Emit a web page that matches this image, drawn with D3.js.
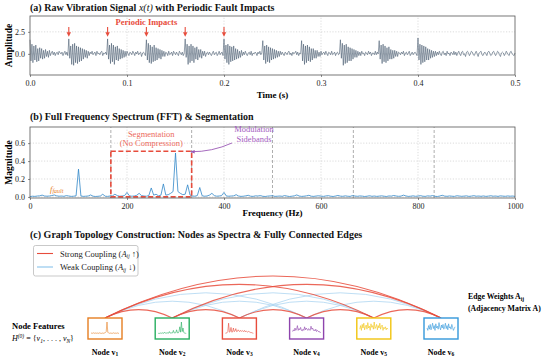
<!DOCTYPE html>
<html>
<head>
<meta charset="utf-8">
<script src="https://cdn.jsdelivr.net/npm/d3@7"></script>
<style>
body { margin: 0; background: #fff; }
svg { font-family: "Liberation Serif", "Times New Roman", serif; }
.tick text { fill: #1a1a1a; }
</style>
</head>
<body>
<div id="chart"></div>
<script>
// (a) raw vibration signal, one sample per ms, 0 .. 0.5 s
const signal = [
  1.6,-0.8,1.1,-1.0,0.9,-0.7,1.0,-0.9,0.6,-0.8,0.7,-0.5,0.6,-0.6,0.4,-0.5,0.5,-0.3,0.3,-0.4,0.4,-0.2,0.1,0.3,-0.1,0.2,-0.2,0.1,0.2,-0.1,0.3,0.1,0.0,0.2,-0.2,0.1,0.3,-0.1,0.2,-0.2,
  1.7,-0.5,0.9,-1.2,1.1,-1.3,1.2,-1.0,0.9,-1.1,0.8,-0.9,0.7,-0.8,0.6,-0.6,0.5,-0.4,0.4,-0.5,0.3,-0.2,0.2,0.0,0.3,-0.1,0.1,0.2,-0.2,0.3,0.0,0.1,-0.1,0.2,0.3,-0.2,0.1,0.0,0.2,-0.1,
  1.7,-0.6,1.0,-1.1,1.2,-0.9,1.0,-1.2,0.8,-0.7,0.9,-0.8,0.6,-0.6,0.5,-0.5,0.4,-0.4,0.3,-0.3,0.3,0.0,-0.2,0.2,0.1,-0.1,0.3,0.1,-0.2,0.2,0.0,0.3,-0.1,0.1,0.2,-0.3,0.1,0.2,0.0,-0.2,
  1.6,-0.7,1.2,-1.0,1.0,-1.1,0.8,-0.9,1.0,-0.8,0.7,-0.7,0.6,-0.5,0.5,-0.6,0.4,-0.3,0.3,-0.3,0.2,0.1,-0.2,0.3,-0.1,0.0,0.2,-0.2,0.3,0.1,-0.1,0.2,0.0,-0.2,0.3,0.1,-0.1,0.2,-0.2,0.1,
  1.7,-0.4,1.1,-1.2,0.9,-1.0,1.1,-0.8,0.9,-1.0,0.7,-0.6,0.8,-0.7,0.5,-0.4,0.5,-0.5,0.3,-0.2,0.3,-0.3,0.1,0.2,-0.1,0.2,0.0,-0.2,0.1,0.3,-0.1,0.1,0.2,-0.2,0.0,0.3,-0.1,0.1,0.2,-0.2,
  1.7,-0.6,1.0,-1.0,1.1,-1.2,0.9,-0.9,0.8,-0.8,0.9,-0.7,0.6,-0.6,0.5,-0.5,0.3,-0.4,0.4,-0.2,0.2,-0.1,0.3,0.0,-0.2,0.1,0.2,-0.1,0.3,-0.2,0.1,0.0,0.2,0.1,-0.2,0.2,0.0,0.3,-0.1,0.1,
  1.5,-0.7,0.9,-1.1,1.0,-0.9,0.8,-1.0,0.7,-0.7,0.6,-0.6,0.5,-0.5,0.4,-0.4,0.3,-0.3,0.3,-0.1,0.2,0.0,-0.2,0.2,0.1,-0.1,0.2,0.3,-0.1,0.1,-0.2,0.2,0.0,0.1,0.3,-0.1,0.2,-0.2,0.1,0.0,
  1.5,-0.8,1.1,-1.2,0.9,-1.0,1.0,-0.8,0.8,-0.9,0.6,-0.7,0.6,-0.5,0.4,-0.5,0.4,-0.3,0.2,-0.3,0.3,-0.1,0.1,0.2,-0.1,0.3,0.0,-0.2,0.2,0.1,-0.1,0.3,-0.1,0.0,0.2,-0.2,0.1,0.2,-0.1,0.0,
  1.6,-0.5,1.2,-1.3,1.0,-1.1,1.1,-1.0,0.8,-0.8,0.7,-0.8,0.6,-0.6,0.5,-0.4,0.4,-0.4,0.3,-0.2,0.2,-0.2,0.3,0.0,0.1,-0.2,0.2,0.1,-0.1,0.3,0.0,0.2,-0.2,0.1,0.1,-0.1,0.3,-0.1,0.2,0.0,
  1.5,-0.6,1.0,-1.1,1.1,-0.9,0.9,-1.0,0.7,-0.8,0.8,-0.6,0.5,-0.6,0.4,-0.5,0.4,-0.3,0.3,-0.3,0.2,0.1,-0.1,0.2,0.0,0.3,-0.2,0.1,0.2,-0.1,0.1,0.3,-0.2,0.0,0.2,-0.1,0.1,0.2,0.0,-0.2,
  1.8,-0.7,1.1,-1.2,1.0,-1.0,0.9,-0.9,0.8,-0.7,0.6,-0.7,0.5,-0.5,0.4,-0.4,0.3,-0.3,0.3,-0.2,0.2,-0.1,0.3,0.0,-0.2,0.2,0.3,-0.1,0.1,-0.2,0.3,0.0,0.1,-0.2,0.2,0.1,-0.1,0.3,-0.1,0.2,
  -0.2,0.1,0.3,0.0,-0.2,0.2,0.3,-0.1,0.0,-0.3,0.2,0.3,0.1,-0.2,0.0,0.3,0.2,-0.1,-0.2,0.1,
  0.3,0.0,-0.3,0.1,0.2,0.3,-0.1,-0.2,0.1,0.2,0.0,-0.2,0.2,0.3,0.1,-0.2,-0.1,0.2,0.3,0.0,
  -0.2,0.0,0.3,0.2,-0.1,-0.3,0.1,0.2,0.1,-0.2,0.0,0.3,0.1,-0.1,-0.2,0.2,0.3,0.0,-0.1,-0.2,0.1
];
const impactTimes = [0.04, 0.08, 0.12, 0.16, 0.2];
const timeTicks = [0, 0.1, 0.2, 0.3, 0.4, 0.5];
const ampTicks = [0, 2.5];

// (b) FFT magnitude, 5 Hz bins, 0 .. 1000 Hz
const freqStep = 5;
const spectrum = [
  0.004,0.008,0.006,0.010,0.012,0.020,0.010,0.008,0.010,0.015,
  0.022,0.012,0.008,0.010,0.007,0.015,0.010,0.006,0.008,0.012,
  0.310,0.010,0.006,0.008,0.010,0.022,0.008,0.005,0.007,0.010,
  0.030,0.008,0.006,0.010,0.012,0.030,0.015,0.008,0.010,0.015,
  0.050,0.012,0.008,0.010,0.018,0.040,0.015,0.010,0.008,0.015,
  0.100,0.020,0.030,0.012,0.020,0.145,0.020,0.025,0.040,0.060,
  0.490,0.060,0.040,0.025,0.030,0.135,0.020,0.010,0.008,0.015,
  0.105,0.012,0.008,0.010,0.020,0.040,0.015,0.008,0.010,0.015,
  0.050,0.010,0.008,0.010,0.012,0.025,0.010,0.006,0.008,0.012,
  0.018,0.008,0.006,0.012,0.010,0.015,0.007,0.005,0.009,0.011,
  0.014,0.006,0.008,0.010,0.007,0.015,0.009,0.005,0.008,0.012,
  0.022,0.010,0.006,0.008,0.012,0.018,0.008,0.006,0.010,0.013,
  0.009,0.006,0.011,0.014,0.008,0.005,0.010,0.016,0.009,0.007,
  0.012,0.008,0.006,0.015,0.010,0.007,0.011,0.009,0.005,0.008,
  0.013,0.007,0.010,0.006,0.009,0.012,0.008,0.005,0.011,0.009,
  0.016,0.010,0.007,0.009,0.020,0.011,0.006,0.008,0.012,0.007,
  0.010,0.014,0.008,0.006,0.012,0.009,0.015,0.007,0.005,0.010,
  0.018,0.009,0.007,0.011,0.008,0.006,0.013,0.010,0.007,0.009,
  0.012,0.006,0.009,0.014,0.008,0.010,0.007,0.011,0.006,0.009,
  0.013,0.008,0.010,0.006,0.012,0.009,0.007,0.011,0.008,0.010,
  0.006
];
const segmentBounds = [166.7, 333.3, 500, 666.7, 833.3];
const segWindow = [166.7, 333.3];
const segTop = 0.51;
const freqTicks = [0, 200, 400, 600, 800, 1000];
const magTicks = [0, 0.2, 0.4, 0.6];

// (c) graph nodes, their mini spectra and the edges
const nodeIds = ["1", "2", "3", "4", "5", "6"];
const nodeColors = ["#e67e22", "#27ae60", "#e74c3c", "#8e44ad", "#f1c40f", "#3498db"];
const nodeSpectra = [
  [0.05,0.08,0.06,0.1,0.07,0.05,0.09,0.06,0.08,0.05,0.07,0.1,0.06,0.05,0.08,0.07,0.06,0.09,0.12,0.2,1.0,0.15,0.08,0.06,0.07,0.09,0.05,0.06,0.1,0.07,0.05,0.08,0.06,0.09,0.05,0.07],
  [0.05,0.06,0.05,0.08,0.06,0.1,0.07,0.06,0.15,0.07,0.06,0.12,0.08,0.07,0.2,0.08,0.07,0.1,0.09,0.3,0.1,0.08,0.12,0.35,0.1,0.09,0.2,0.6,0.15,1.0,0.2,0.5,0.12,0.08,0.06,0.05],
  [0.06,0.08,0.1,0.2,0.9,0.15,0.2,0.55,0.15,0.18,0.5,0.2,0.25,0.45,0.2,0.22,0.35,0.25,0.2,0.3,0.22,0.28,0.25,0.2,0.3,0.18,0.25,0.2,0.15,0.22,0.18,0.12,0.15,0.1,0.08,0.06],
  [0.2,0.35,0.25,0.5,0.3,0.4,0.7,0.3,0.45,0.35,0.55,0.3,0.25,0.4,0.3,0.6,0.35,0.5,0.4,0.3,0.45,0.35,0.3,0.65,0.4,0.5,0.3,0.35,0.25,0.4,0.2,0.3,0.25,0.15,0.2,0.1],
  [0.4,0.7,0.3,0.8,0.5,0.9,0.35,0.6,0.75,0.4,0.95,0.5,0.65,0.3,0.85,0.55,0.7,0.4,1.0,0.45,0.6,0.8,0.35,0.7,0.5,0.9,0.4,0.65,0.75,0.3,0.55,0.45,0.6,0.35,0.5,0.4],
  [0.5,0.3,0.7,0.4,0.8,0.35,0.6,0.9,0.45,0.7,0.3,0.85,0.5,0.65,0.4,0.95,0.55,0.35,0.75,0.5,0.8,0.4,0.6,0.9,0.45,0.7,0.35,0.85,0.5,0.6,0.4,0.8,0.55,0.3,0.45,0.6]
];
// [from, to, strong]
const edges = [
  [0,2,false],[0,3,false],[1,3,false],[1,4,false],[2,4,false],[2,5,false],[3,5,false],
  [0,1,true],[1,2,true],[2,3,true],[3,4,true],[4,5,true],[0,4,true],[0,5,true],[1,5,true]
];

const width = 550, height = 357;
const svg = d3.select("#chart").append("svg")
  .attr("width", width).attr("height", height)
  .attr("viewBox", [0, 0, width, height]);

const defs = svg.append("defs");
defs.append("marker").attr("id", "purpleHead")
  .attr("viewBox", "0 0 10 10").attr("refX", 9).attr("refY", 5)
  .attr("markerWidth", 5).attr("markerHeight", 5).attr("orient", "auto")
  .append("path").attr("d", "M0,1 L10,5 L0,9 Z").attr("fill", "#9b59b6");

const left = 30, right = 515;

function frame(g, x, y) {
  g.append("rect")
    .attr("x", x.range()[0]).attr("y", y.range()[1])
    .attr("width", x.range()[1] - x.range()[0])
    .attr("height", y.range()[0] - y.range()[1])
    .attr("fill", "none").attr("stroke", "#555").attr("stroke-width", 0.8);
}

function grid(g, x, y, xt, yt) {
  g.append("g").selectAll("line").data(xt.slice(1, -1)).join("line")
    .attr("x1", d => x(d)).attr("x2", d => x(d))
    .attr("y1", y.range()[0]).attr("y2", y.range()[1])
    .attr("stroke", "#c4c4c4").attr("stroke-width", 0.6).attr("stroke-dasharray", "1.2,1.6");
  g.append("g").selectAll("line").data(yt).join("line")
    .attr("x1", x.range()[0]).attr("x2", x.range()[1])
    .attr("y1", d => y(d)).attr("y2", d => y(d))
    .attr("stroke", "#c4c4c4").attr("stroke-width", 0.6).attr("stroke-dasharray", "1.2,1.6");
}

function axes(g, x, y, xt, yt, xfmt, yfmt) {
  const ax = g.append("g")
    .attr("transform", `translate(0,${y.range()[0]})`)
    .call(d3.axisBottom(x).tickValues(xt).tickFormat(xfmt).tickSize(2).tickPadding(3));
  const ay = g.append("g")
    .attr("transform", `translate(${x.range()[0]},0)`)
    .call(d3.axisLeft(y).tickValues(yt).tickFormat(yfmt).tickSize(2).tickPadding(3));
  [ax, ay].forEach(a => {
    a.attr("font-family", null).attr("font-size", null).attr("fill", "#1a1a1a");
    a.select(".domain").remove();
    a.selectAll("line").attr("stroke", "#444").attr("stroke-width", 0.6);
    a.selectAll("text").attr("font-size", 8).attr("fill", "#1a1a1a");
  });
}

// ---------- panel (a)
const xA = d3.scaleLinear().domain([0, 0.5]).range([left, right]);
const yA = d3.scaleLinear().domain([-2.4, 4.3]).range([75, 16]);
const gA = svg.append("g");
grid(gA, xA, yA, timeTicks, ampTicks);

const tStep = 0.5 / (signal.length - 1);
gA.append("path")
  .datum(signal)
  .attr("fill", "none").attr("stroke", "#3d5166").attr("stroke-width", 0.55)
  .attr("d", d3.line().x((d, i) => xA(i * tStep)).y(d => yA(d)));
frame(gA, xA, yA);
axes(gA, xA, yA, timeTicks, ampTicks, d3.format(".1f"), d3.format(".1f"));

gA.selectAll(".impact").data(impactTimes).join("path")
  .attr("d", t => `M${xA(t)},${yA(3.05)} L${xA(t)},${yA(2.4)}`)
  .attr("stroke", "#e74c3c").attr("stroke-width", 1.1);
gA.selectAll(".impactHead").data(impactTimes).join("path")
  .attr("d", t => `M${xA(t) - 2.2},${yA(2.45)} L${xA(t) + 2.2},${yA(2.45)} L${xA(t)},${yA(1.95)} Z`)
  .attr("fill", "#e74c3c");
gA.append("text").attr("x", xA(0.12)).attr("y", 25).attr("text-anchor", "middle")
  .attr("font-size", 8.5).attr("font-weight", "bold").attr("fill", "#e74c3c")
  .text("Periodic Impacts");

const titleA = svg.append("text").attr("x", left).attr("y", 10.5)
  .attr("font-size", 10).attr("font-weight", "bold").attr("fill", "#111");
titleA.append("tspan").text("(a) Raw Vibration Signal ");
titleA.append("tspan").attr("font-style", "italic").attr("font-weight", "normal").text("x(t)");
titleA.append("tspan").text(" with Periodic Fault Impacts");

svg.append("text").attr("x", (left + right) / 2).attr("y", 98).attr("text-anchor", "middle")
  .attr("font-size", 9).attr("font-weight", "bold").text("Time (s)");
svg.append("text").attr("transform", `translate(12,${(yA.range()[0] + yA.range()[1]) / 2}) rotate(-90)`)
  .attr("text-anchor", "middle").attr("font-size", 9.5).attr("font-weight", "bold").text("Amplitude");

// ---------- panel (b)
const xB = d3.scaleLinear().domain([0, 1000]).range([left, right]);
const yB = d3.scaleLinear().domain([-0.012, 0.78]).range([198, 127]);
const gB = svg.append("g");
grid(gB, xB, yB, freqTicks, magTicks);

gB.selectAll(".seg").data(segmentBounds).join("line")
  .attr("x1", d => xB(d)).attr("x2", d => xB(d))
  .attr("y1", yB.range()[0]).attr("y2", yB.range()[1])
  .attr("stroke", "#999").attr("stroke-width", 0.8).attr("stroke-dasharray", "3,2");

gB.append("path")
  .datum(spectrum)
  .attr("fill", "none").attr("stroke", "#3087c8").attr("stroke-width", 0.8)
  .attr("d", d3.line().x((d, i) => xB(i * freqStep)).y(d => yB(d)));

gB.append("rect")
  .attr("x", xB(segWindow[0])).attr("y", yB(segTop))
  .attr("width", xB(segWindow[1]) - xB(segWindow[0]))
  .attr("height", yB(0) - yB(segTop))
  .attr("fill", "none").attr("stroke", "#e74c3c").attr("stroke-width", 1.6)
  .attr("stroke-dasharray", "5,2.5");

frame(gB, xB, yB);
axes(gB, xB, yB, freqTicks, magTicks, d3.format("d"), d3.format(".1f"));

const segMid = (xB(segWindow[0]) + xB(segWindow[1])) / 2;
gB.append("text").attr("x", segMid).attr("y", 137).attr("text-anchor", "middle")
  .attr("font-size", 8.5).attr("fill", "#ec6a5c").text("Segmentation");
gB.append("text").attr("x", segMid).attr("y", 146).attr("text-anchor", "middle")
  .attr("font-size", 8.5).attr("fill", "#ec6a5c").text("(No Compression)");

gB.append("text").attr("x", 254).attr("y", 132).attr("text-anchor", "middle")
  .attr("font-size", 8.5).attr("fill", "#a35cc0").text("Modulation");
gB.append("text").attr("x", 254).attr("y", 141.5).attr("text-anchor", "middle")
  .attr("font-size", 8.5).attr("fill", "#a35cc0").text("Sidebands");
gB.append("path")
  .attr("d", `M232,143 Q212,152 ${xB(segWindow[1]) - 1},${yB(segTop) + 0.5}`)
  .attr("fill", "none").attr("stroke", "#9b59b6").attr("stroke-width", 0.9)
  .attr("marker-end", "url(#purpleHead)");

const fLab = gB.append("text").attr("x", 50).attr("y", 191.5)
  .attr("font-size", 8.5).attr("font-style", "italic").attr("fill", "#e67e22");
fLab.append("tspan").text("f");
fLab.append("tspan").attr("font-size", 6).attr("dy", 1.5).text("fault");

svg.append("text").attr("x", left).attr("y", 119.5)
  .attr("font-size", 10).attr("font-weight", "bold").attr("fill", "#111")
  .text("(b) Full Frequency Spectrum (FFT) & Segmentation");
svg.append("text").attr("x", (left + right) / 2).attr("y", 216).attr("text-anchor", "middle")
  .attr("font-size", 9).attr("font-weight", "bold").text("Frequency (Hz)");
svg.append("text").attr("transform", `translate(12,${(yB.range()[0] + yB.range()[1]) / 2}) rotate(-90)`)
  .attr("text-anchor", "middle").attr("font-size", 9.5).attr("font-weight", "bold").text("Magnitude");

// ---------- panel (c)
svg.append("text").attr("x", left).attr("y", 237.5)
  .attr("font-size", 10).attr("font-weight", "bold").attr("fill", "#111")
  .text("(c) Graph Topology Construction: Nodes as Spectra & Fully Connected Edges");

const xN = d3.scalePoint().domain(nodeIds).range([105, 441]);
const boxW = 34, boxH = 21, boxTop = 318;
const rad = 0.25;
const gC = svg.append("g");

function arcPath(e) {
  const x1 = xN(nodeIds[e[0]]), x2 = xN(nodeIds[e[1]]);
  const cx = (x1 + x2) / 2, cy = boxTop - rad * (x2 - x1);
  return `M${x1},${boxTop} Q${cx},${cy} ${x2},${boxTop}`;
}
gC.selectAll(".weak").data(edges.filter(e => !e[2])).join("path")
  .attr("d", arcPath).attr("fill", "none")
  .attr("stroke", "#a9d3f0").attr("stroke-width", 0.9).attr("opacity", 0.85);
gC.selectAll(".strong").data(edges.filter(e => e[2])).join("path")
  .attr("d", arcPath).attr("fill", "none")
  .attr("stroke", "#e74c3c").attr("stroke-width", 1.1).attr("opacity", 0.85);

const node = gC.selectAll(".node").data(nodeIds).join("g")
  .attr("transform", d => `translate(${xN(d) - boxW / 2},${boxTop})`);
node.append("rect").attr("width", boxW).attr("height", boxH)
  .attr("fill", "#fff").attr("stroke", (d, i) => nodeColors[i]).attr("stroke-width", 1.4);
const mx = d3.scaleLinear().domain([0, nodeSpectra[0].length - 1]).range([3, boxW - 3]);
const my = d3.scaleLinear().domain([0, 1]).range([16, 4]);
node.append("path")
  .attr("d", (d, i) => d3.line().x((v, k) => mx(k)).y(v => my(v))(nodeSpectra[i]))
  .attr("fill", "none").attr("stroke", (d, i) => nodeColors[i]).attr("stroke-width", 0.6);

const nLab = gC.selectAll(".nlab").data(nodeIds).join("text")
  .attr("x", d => xN(d)).attr("y", 354.5).attr("text-anchor", "middle")
  .attr("font-size", 8).attr("font-weight", "bold");
nLab.append("tspan").text("Node v");
nLab.append("tspan").attr("font-size", 5.5).attr("dy", 1.5).text(d => d);

// legend
const lg = svg.append("g");
lg.append("rect").attr("x", 33.5).attr("y", 245.5).attr("width", 104.5).attr("height", 30.5)
  .attr("rx", 2).attr("fill", "#fff").attr("stroke", "#bbb").attr("stroke-width", 0.8);
const legendItems = [
  { color: "#e74c3c", label: "Strong Coupling (", arrow: " \u2191)", w: 1.1 },
  { color: "#a9d3f0", label: "Weak Coupling (", arrow: " \u2193)", w: 1.5 }
];
legendItems.forEach((it, i) => {
  const y = 253.5 + i * 13.5;
  lg.append("line").attr("x1", 37).attr("x2", 53).attr("y1", y).attr("y2", y)
    .attr("stroke", it.color).attr("stroke-width", it.w);
  const t = lg.append("text").attr("x", 60).attr("y", y + 3).attr("font-size", 8.5).attr("fill", "#222");
  t.append("tspan").text(it.label);
  t.append("tspan").attr("font-style", "italic").text("A");
  t.append("tspan").attr("font-style", "italic").attr("font-size", 5.5).attr("dy", 1.5).text("ij");
  t.append("tspan").attr("dy", -1.5).text(it.arrow);
});

// side labels
svg.append("text").attr("x", 12).attr("y", 329).attr("font-size", 8.5).attr("font-weight", "bold")
  .text("Node Features");
const hLab = svg.append("text").attr("x", 12).attr("y", 341).attr("font-size", 8).attr("font-style", "italic");
hLab.append("tspan").text("H");
hLab.append("tspan").attr("font-size", 5.5).attr("dy", -3).text("(0)");
hLab.append("tspan").attr("dy", 3).attr("font-style", "normal").text(" = {");
hLab.append("tspan").text("v");
hLab.append("tspan").attr("font-size", 5.5).attr("dy", 1.5).text("1");
hLab.append("tspan").attr("dy", -1.5).attr("font-style", "normal").text(", . . . , ");
hLab.append("tspan").text("v");
hLab.append("tspan").attr("font-size", 5.5).attr("dy", 1.5).text("N");
hLab.append("tspan").attr("dy", -1.5).attr("font-style", "normal").text("}");

const eLab = svg.append("text").attr("x", 468).attr("y", 299).attr("font-size", 7.8).attr("font-weight", "bold");
eLab.append("tspan").text("Edge Weights A");
eLab.append("tspan").attr("font-size", 5.5).attr("dy", 1.5).text("ij");
svg.append("text").attr("x", 468).attr("y", 311).attr("font-size", 7.8).attr("font-weight", "bold")
  .text("(Adjacency Matrix A)");
</script>
</body>
</html>
